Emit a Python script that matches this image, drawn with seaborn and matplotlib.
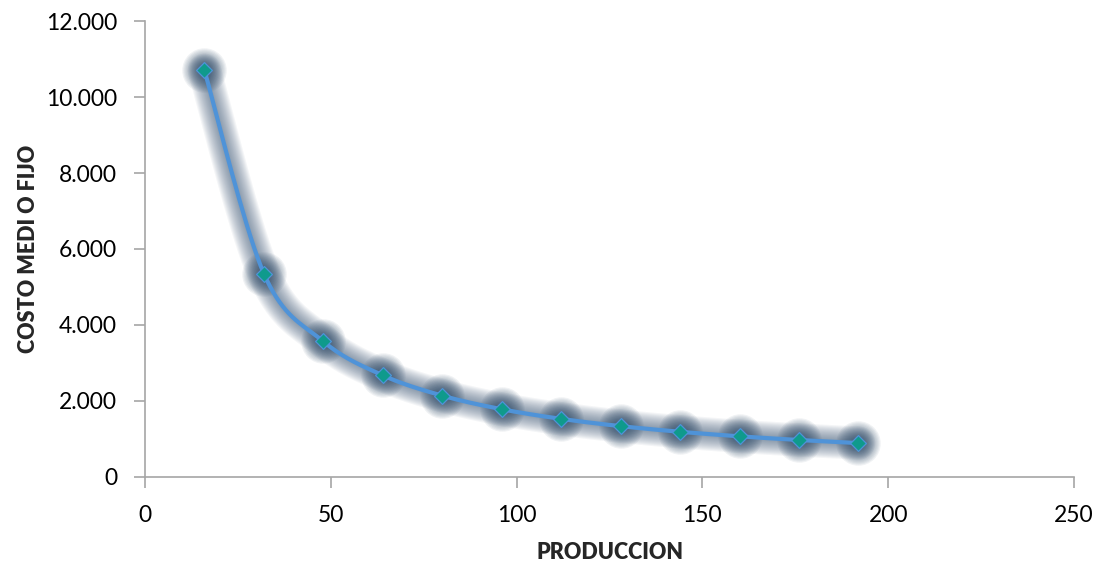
import numpy as np
import pandas as pd
import matplotlib
matplotlib.use("Agg")
import matplotlib.pyplot as plt
import seaborn as sns
from matplotlib.ticker import FuncFormatter

# data
produccion = [16, 32, 48, 64, 80, 96, 112, 128, 144, 160, 176, 192]
costo_medio_fijo = [10700, 5350, 3567, 2675, 2140, 1783, 1529, 1338, 1189, 1070, 973, 892]

x_ticks = [0, 50, 100, 150, 200, 250]
y_ticks = [0, 2000, 4000, 6000, 8000, 10000, 12000]

LINE_COLOR = "#4f93d8"
MARKER_COLOR = "#0f9a8c"
GLOW_COLOR = "#46627f"


def smooth_curve(x, y, steps=20):
    # catmull-rom style smoothing, like the spreadsheet "smoothed line" option
    x = np.asarray(x, float)
    y = np.asarray(y, float)
    px = np.concatenate([[x[0]], x, [x[-1]]])
    py = np.concatenate([[y[0]], y, [y[-1]]])
    xs, ys = [], []
    t = np.linspace(0, 1, steps)
    for i in range(1, len(px) - 2):
        for arr, out in ((px, xs), (py, ys)):
            p0, p1, p2, p3 = arr[i - 1], arr[i], arr[i + 1], arr[i + 2]
            m1 = (p2 - p0) / 2
            m2 = (p3 - p1) / 2
            h00 = 2 * t**3 - 3 * t**2 + 1
            h10 = t**3 - 2 * t**2 + t
            h01 = -2 * t**3 + 3 * t**2
            h11 = t**3 - t**2
            out.extend(h00 * p1 + h10 * m1 + h01 * p2 + h11 * m2)
    return np.array(xs), np.array(ys)


sns.set_theme(style="white")
plt.rcParams["font.family"] = ["Lato", "DejaVu Sans"]

df = pd.DataFrame({"PRODUCCION": produccion, "COSTO MEDI O FIJO": costo_medio_fijo})
sx, sy = smooth_curve(df["PRODUCCION"], df["COSTO MEDI O FIJO"])

fig, ax = plt.subplots(figsize=(11.01, 5.65), dpi=100)
fig.subplots_adjust(left=0.1317, right=0.9755, bottom=0.1558, top=0.9628)

# soft shadow / glow around the line and markers (many thin layers = blur)
for lw in np.linspace(24, 4, 14):
    ax.plot(sx, sy, color=GLOW_COLOR, lw=lw, alpha=0.06, solid_capstyle="round",
            solid_joinstyle="round", zorder=1)
for ms in np.linspace(32, 10, 14):
    ax.plot(df["PRODUCCION"], df["COSTO MEDI O FIJO"], "o", ms=ms, color="#2f4b68",
            alpha=0.07, mec="none", zorder=1)

ax.plot(sx, sy, color=LINE_COLOR, lw=3, zorder=3)
sns.scatterplot(data=df, x="PRODUCCION", y="COSTO MEDI O FIJO", marker="D", s=65,
                color=MARKER_COLOR, edgecolor=LINE_COLOR, linewidth=0.9, zorder=4, ax=ax)

ax.set_xlim(0, 250)
ax.set_ylim(0, 12000)
ax.set_xticks(x_ticks)
ax.set_yticks(y_ticks)
ax.yaxis.set_major_formatter(FuncFormatter(lambda v, p: f"{int(v):,}".replace(",", ".")))

sns.despine(ax=ax)
for side in ("left", "bottom"):
    ax.spines[side].set_color("#a6a6a6")
    ax.spines[side].set_linewidth(1.2)
ax.tick_params(axis="both", which="major", direction="out", length=8, width=1.2,
               color="#a6a6a6", labelsize=16.5, labelcolor="black", pad=12)
ax.tick_params(axis="x", bottom=True)
ax.tick_params(axis="y", left=True)

ax.set_xlabel("PRODUCCION", fontsize=15.5, fontweight="heavy", labelpad=12)
ax.set_ylabel("COSTO MEDI O FIJO", fontsize=15.5, fontweight="heavy", labelpad=5)

fig.savefig("out.png", dpi=100)
